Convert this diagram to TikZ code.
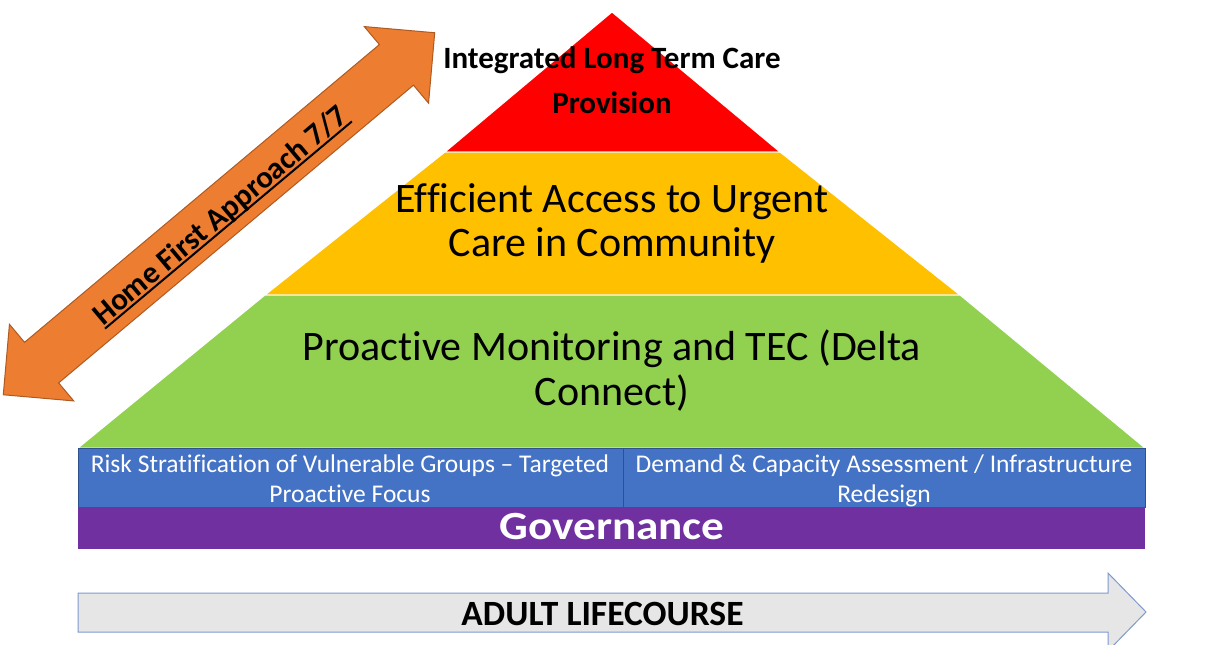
\documentclass[tikz,border=0pt]{standalone}
\usepackage{fontspec}
\setmainfont{Carlito}[Ligatures={TeX,NoCommon}]
\usepackage{xcolor}
\usepackage{graphicx}
\usepackage{tikz}
\usetikzlibrary{calc}

\definecolor{pyrred}{HTML}{FF0000}
\definecolor{pyryellow}{HTML}{FFC000}
\definecolor{pyrgreen}{HTML}{92D050}
\definecolor{boxblue}{HTML}{4472C4}
\definecolor{boxblueline}{HTML}{2F528F}
\definecolor{govpurple}{HTML}{7030A0}
\definecolor{homeorange}{HTML}{ED7D31}
\definecolor{homeline}{HTML}{AE5A21}
\definecolor{lifegray}{HTML}{E7E6E6}
\definecolor{lifeline}{HTML}{7F9ACF}

\newcommand{\wordul}[1]{\setbox0\hbox{#1}\rlap{\rule[-4pt]{\wd0}{2pt}}\box0}

\begin{document}
\begin{tikzpicture}[x=1pt,y=-1pt,
	layer/.style={draw=white,line width=1pt},
	toptext/.style={anchor=base,font=\fontsize{31}{34}\selectfont\bfseries},
	tiertext/.style={anchor=base,font=\fontsize{42}{45}\selectfont},
	boxtext/.style={anchor=base,text=white,font=\fontsize{25.5}{30}\selectfont}]
	\useasboundingbox (0,0) rectangle (1208,645);

	\filldraw[layer,fill=pyrred] (612,12) -- (780,152) -- (445,152) -- cycle;
	\filldraw[layer,fill=pyryellow] (445,152) -- (780,152) -- (960,295) -- (265,295) -- cycle;
	\filldraw[layer,fill=pyrgreen] (265,295) -- (960,295) -- (1145,448) -- (78,448) -- cycle;

	\node[toptext] (ltc1) at (612,68) {Integrated Long Term Care};
	\node[toptext] (ltc2) at (612,113) {Provision};
	\node[tiertext] (urg1) at (612,212) {Efficient Access to Urgent};
	\node[tiertext] (urg2) at (612,256) {Care in Community};
	\node[tiertext] (tec1) at (612,360) {Proactive Monitoring and TEC (Delta};
	\node[tiertext] (tec2) at (612,405) {Connect)};

	\filldraw[fill=boxblue,draw=boxblueline,line width=0.8pt] (78,448) rectangle (623,507);
	\filldraw[fill=boxblue,draw=boxblueline,line width=0.8pt] (623,448) rectangle (1145,507);
	\node[boxtext] (risk1) at (350,472) {Risk Stratification of Vulnerable Groups – Targeted};
	\node[boxtext] (risk2) at (350,502) {Proactive Focus};
	\node[boxtext] (dem1) at (884,472) {Demand \& Capacity Assessment / Infrastructure};
	\node[boxtext] (dem2) at (884,502) {Redesign};

	\fill[govpurple] (78,507) rectangle (1145,549);
	\node[anchor=base,text=white,font=\fontsize{40}{42}\selectfont\bfseries] (gov) at (612,539) {\scalebox{1.13}[1]{Governance}};

	\filldraw[fill=lifegray,draw=lifeline,line width=1pt] (78,593) -- (1108,593) -- (1108,573) -- (1146,612) -- (1108,651) -- (1108,632) -- (78,632) -- cycle;
	\node[anchor=base,font=\fontsize{35.5}{40}\selectfont\bfseries] (life) at (602.5,625) {ADULT LIFECOURSE};

	\begin{scope}[shift={(219,213.75)},rotate=40]
		\filldraw[fill=homeorange,draw=homeline,line width=1pt] (-281.6,0) -- (-231.6,50) -- (-231.6,26.5) -- (231.6,26.5) -- (231.6,50) -- (281.6,0) -- (231.6,-50) -- (231.6,-26.5) -- (-231.6,-26.5) -- (-231.6,-50) -- cycle;
		\node[transform shape,anchor=base,font=\fontsize{31}{34}\selectfont\bfseries] (home) at (0,11.7) {\wordul{Home First Approach 7/7}};
	\end{scope}
\end{tikzpicture}
\end{document}
